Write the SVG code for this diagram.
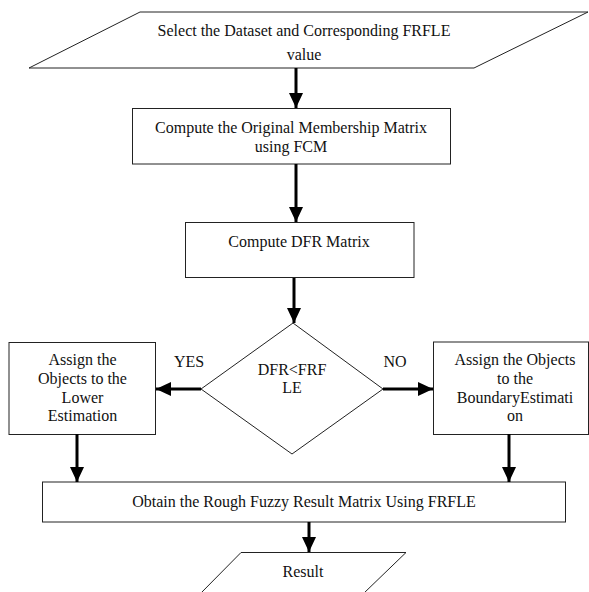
<svg xmlns="http://www.w3.org/2000/svg" width="589" height="592" viewBox="0 0 589 592">
<style>
.shape{fill:#fff;stroke:#222;stroke-width:1}
.t{font-family:"Liberation Serif","Times New Roman",serif;font-size:16px;fill:#111;text-anchor:middle}
.c{stroke:#000;stroke-width:3;fill:none}
</style>
<defs>
<marker id="ah" markerUnits="userSpaceOnUse" markerWidth="16" markerHeight="16" viewBox="0 0 16 16" refX="15" refY="8" orient="auto">
<path d="M0,1 L15,8 L0,15 Z" fill="#000"/>
</marker>
</defs>
<rect width="589" height="592" fill="#fff"/>
<g id="n1">
<polygon class="shape" points="140,12 588,12 474,68 29,68"/>
<text class="t" x="304" y="36">Select the Dataset and Corresponding FRFLE</text>
<text class="t" x="304" y="60">value</text>
</g>
<g id="n2">
<rect class="shape" x="132.5" y="108.5" width="318" height="55.5"/>
<text class="t" x="291" y="133">Compute the Original Membership Matrix</text>
<text class="t" x="291" y="151.5">using FCM</text>
</g>
<g id="n3">
<rect class="shape" x="185.5" y="222.5" width="228.5" height="55"/>
<text class="t" x="299" y="247">Compute DFR Matrix</text>
</g>
<g id="n4">
<polygon class="shape" points="293,323 383,389 292,454 201,389"/>
<text class="t" x="292" y="375">DFR&lt;FRF</text>
<text class="t" x="292" y="393">LE</text>
</g>
<g id="n5">
<rect class="shape" x="9" y="342.5" width="146.5" height="92"/>
<text class="t" x="82.5" y="365">Assign the</text>
<text class="t" x="82.5" y="384">Objects to the</text>
<text class="t" x="82.5" y="402.5">Lower</text>
<text class="t" x="82.5" y="421">Estimation</text>
</g>
<g id="n6">
<rect class="shape" x="433.5" y="342" width="155" height="92.5"/>
<text class="t" x="515" y="365">Assign the Objects</text>
<text class="t" x="515" y="384">to the</text>
<text class="t" x="515" y="402.5">BoundaryEstimati</text>
<text class="t" x="515" y="421">on</text>
</g>
<g id="n7">
<rect class="shape" x="42.5" y="482" width="523" height="40"/>
<text class="t" x="304" y="506.5">Obtain the Rough Fuzzy Result Matrix Using FRFLE</text>
</g>
<g id="n8">
<polygon class="shape" points="241,552.5 406,552.5 363,594 200,594"/>
<text class="t" x="303" y="577">Result</text>
</g>
<g id="connectors">
<line class="c" x1="296" y1="68" x2="296" y2="108" marker-end="url(#ah)"/>
<line class="c" x1="296" y1="164" x2="296" y2="222" marker-end="url(#ah)"/>
<line class="c" x1="294" y1="278" x2="294" y2="323" marker-end="url(#ah)"/>
<line class="c" x1="201" y1="389" x2="156" y2="389" marker-end="url(#ah)"/>
<line class="c" x1="383" y1="389" x2="433" y2="389" marker-end="url(#ah)"/>
<line class="c" x1="77" y1="434" x2="77" y2="482" marker-end="url(#ah)"/>
<line class="c" x1="509" y1="434" x2="509" y2="482" marker-end="url(#ah)"/>
<line class="c" x1="309" y1="522" x2="309" y2="552" marker-end="url(#ah)"/>
<text class="t" x="189" y="367">YES</text>
<text class="t" x="395" y="367">NO</text>
</g>
</svg>
